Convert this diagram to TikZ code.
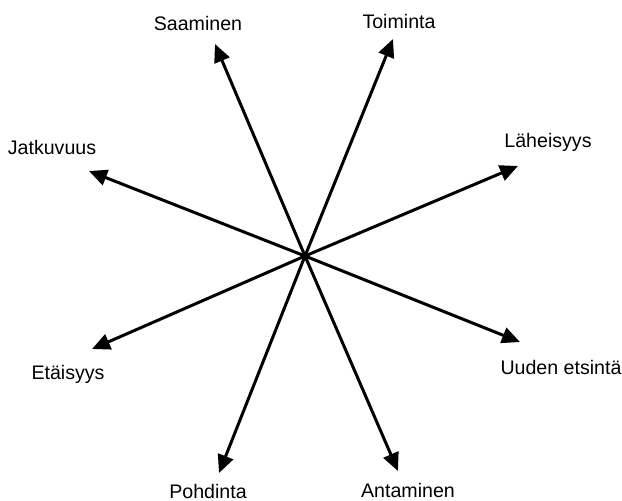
\documentclass[tikz,border=0pt]{standalone}
\usepackage{fontspec}
\setmainfont{Liberation Sans}
\usepackage{tikz}
\usetikzlibrary{arrows.meta}
\usetikzlibrary{positioning}

\begin{document}
\begin{tikzpicture}[
x=0.5pt, y=-0.5pt,
every node/.style={inner sep=0, font=\fontsize{9.8}{11}\selectfont},
every path/.style={line width=1.5pt},
ray/.style={-{Triangle[length=9pt, width=8pt]}}
]
\useasboundingbox (0,0) rectangle (622,500);
\coordinate (o) at (305,256);
% ends of the arrows
\coordinate (tsaa) at (215,44);
\coordinate (ttoi) at (393,39);
\coordinate (tjat) at (89,171);
\coordinate (tlah) at (518,166);
\coordinate (teta) at (92,349);
\coordinate (tuud) at (520,342);
\coordinate (tpoh) at (219,473);
\coordinate (tant) at (398,471);
% labels
\node (saa) at (198,23) {Saaminen};
\node (toi) at (399,21) {Toiminta};
\node (jat) at (52,147) {Jatkuvuus};
\node (lah) at (548,142) {Läheisyys};
\node (eta) at (68,374) {Etäisyys};
\node (uud) at (561,367) {Uuden etsintä};
\node (poh) at (208,491) {Pohdinta};
\node (ant) at (408,490) {Antaminen};

\draw[ray] (o) to (tsaa);
\draw[ray] (o) to (ttoi);
\draw[ray] (o) to (tjat);
\draw[ray] (o) to (tlah);
\draw[ray] (o) to (teta);
\draw[ray] (o) to (tuud);
\draw[ray] (o) to (tpoh);
\draw[ray] (o) to (tant);
\end{tikzpicture}
\end{document}
